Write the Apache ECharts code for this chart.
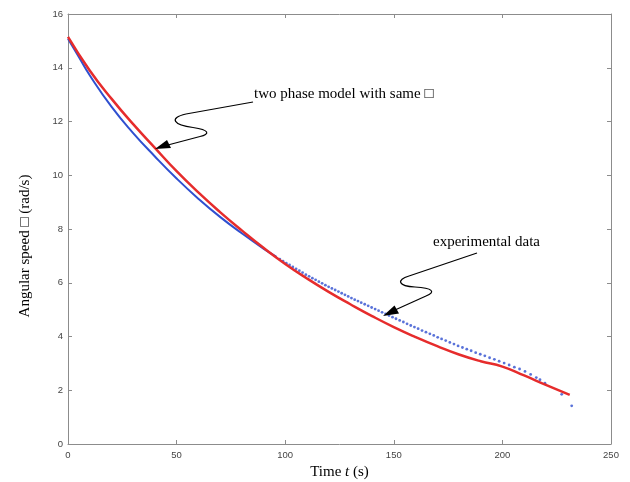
<!DOCTYPE html>
<html>
<head>
<meta charset="utf-8">
<script src="https://cdn.jsdelivr.net/npm/echarts@6/dist/echarts.min.js"></script>
<style>
html,body{margin:0;padding:0;background:#fff;}
#chart{width:630px;height:482px;}
</style>
</head>
<body>
<div id="chart"></div>
<script>
// ---- data ----
var xTicks = [0, 50, 100, 150, 200, 250];
var yTicks = [0, 2, 4, 6, 8, 10, 12, 14, 16];

// two phase model (red line)
var modelT = [0, 10, 20, 30, 40, 50, 60, 70, 80, 90, 100, 110, 120, 130, 140, 150, 160, 170, 180, 190, 200, 210, 220, 231];
var modelW = [15.15, 13.9, 12.85, 11.9, 11.02, 10.15, 9.36, 8.63, 7.95, 7.3, 6.7, 6.16, 5.66, 5.2, 4.76, 4.35, 3.98, 3.64, 3.33, 3.08, 2.88, 2.55, 2.2, 1.83];

// experimental data, dense early part (looks continuous)
var expDenseT = [0, 5, 10, 20, 30, 40, 50, 60, 70, 80, 90, 96];
var expDenseW = [15.08, 14.4, 13.72, 12.55, 11.57, 10.7, 9.88, 9.13, 8.45, 7.84, 7.27, 6.96];

// experimental data, separate samples
var expT = [97.5, 99, 100.5, 102, 103.5, 105, 106.5, 108, 109.5, 111, 112.5, 114, 115.5, 117, 118.5, 120, 121.5, 123, 124.5, 126, 127.5, 129, 130.5, 132, 133.5, 135, 136.6, 138.2, 139.8, 141.4, 143, 144.6, 146.2, 147.8, 149.4, 151, 152.7, 154.4, 156.1, 157.8, 159.5, 161.2, 163, 164.8, 166.6, 168.4, 170.2, 172, 173.9, 175.8, 177.7, 179.6, 181.6, 183.6, 185.6, 187.7, 189.8, 191.9, 194.1, 196.3, 198.5, 200.8, 203.1, 205.5, 207.9, 210.4, 213, 215.6, 217.3, 219.6, 227.3, 231.9];
var expW = [6.88, 6.80, 6.73, 6.66, 6.59, 6.52, 6.45, 6.38, 6.30, 6.24, 6.17, 6.11, 6.04, 5.98, 5.91, 5.85, 5.79, 5.73, 5.67, 5.61, 5.55, 5.49, 5.43, 5.37, 5.32, 5.26, 5.20, 5.14, 5.08, 5.02, 4.96, 4.90, 4.84, 4.78, 4.72, 4.66, 4.60, 4.54, 4.47, 4.41, 4.35, 4.29, 4.22, 4.16, 4.10, 4.04, 3.97, 3.91, 3.85, 3.78, 3.72, 3.65, 3.59, 3.53, 3.47, 3.40, 3.34, 3.28, 3.21, 3.15, 3.08, 3.01, 2.94, 2.86, 2.79, 2.70, 2.59, 2.47, 2.39, 2.26, 1.85, 1.42];

var xTitle = 'Time {i|t} (s)';
var yTitle = 'Angular speed \u25A1 (rad/s)';
var note1 = 'two phase model with same \u25A1';
var note2 = 'experimental data';

function pairs(a, b) { return a.map(function (v, i) { return [v, b[i]]; }); }

var chart = echarts.init(document.getElementById('chart'), null, {renderer: 'canvas'});
var frameColor = '#8c8c8c';
var labelStyle = {color: '#444', fontFamily: 'Liberation Sans, Arial, sans-serif', fontSize: 9.5};
var serif = 'Liberation Serif, Times New Roman, serif';

function axisBase(extra) {
  var o = {
    type: 'value',
    axisLine: {show: true, onZero: false, lineStyle: {color: frameColor, width: 1}},
    axisTick: {show: true, inside: true, length: 4, lineStyle: {color: frameColor}},
    splitLine: {show: false}
  };
  for (var k in extra) o[k] = extra[k];
  return o;
}

var arrowStroke = {fill: null, stroke: '#000', lineWidth: 1.2};
function seg(a, b) { return {type: 'line', z: 10, shape: {x1: a[0], y1: a[1], x2: b[0], y2: b[1]}, style: arrowStroke}; }
function bez(a, c1, c2, b) {
  return {type: 'bezierCurve', z: 10,
    shape: {x1: a[0], y1: a[1], cpx1: c1[0], cpy1: c1[1], cpx2: c2[0], cpy2: c2[1], x2: b[0], y2: b[1]},
    style: arrowStroke};
}

var option = {
  backgroundColor: '#fff',
  animation: false,
  grid: {left: 68, right: 19, top: 14, bottom: 38, containLabel: false, outerBoundsMode: 'none'},
  xAxis: [
    axisBase({
      position: 'bottom', min: xTicks[0], max: xTicks[xTicks.length - 1], interval: xTicks[1] - xTicks[0],
      axisLabel: Object.assign({margin: 6}, labelStyle),
      name: xTitle, nameLocation: 'middle', nameGap: 17,
      nameTextStyle: {fontFamily: serif, fontSize: 15, color: '#000',
        rich: {i: {fontFamily: serif, fontSize: 15, fontStyle: 'italic', color: '#000'}}}
    }),
    axisBase({
      position: 'top', min: xTicks[0], max: xTicks[xTicks.length - 1], interval: xTicks[1] - xTicks[0],
      axisLabel: {show: false}
    })
  ],
  yAxis: [
    axisBase({
      position: 'left', min: yTicks[0], max: yTicks[yTicks.length - 1], interval: yTicks[1] - yTicks[0],
      axisLabel: Object.assign({margin: 5}, labelStyle),
      name: yTitle, nameLocation: 'middle', nameGap: 35, nameRotate: 90,
      nameTextStyle: {fontFamily: serif, fontSize: 15, color: '#000', padding: [0, 34, 0, 0]}
    }),
    axisBase({
      position: 'right', min: yTicks[0], max: yTicks[yTicks.length - 1], interval: yTicks[1] - yTicks[0],
      axisLabel: {show: false}
    })
  ],
  series: [
    {
      name: 'experimental (dense)', type: 'line', data: pairs(expDenseT, expDenseW),
      smooth: true, symbol: 'none', z: 2,
      lineStyle: {color: '#2f4fd0', width: 2}
    },
    {
      name: 'experimental data', type: 'scatter', data: pairs(expT, expW),
      symbol: 'circle', symbolSize: 2.8, z: 2,
      itemStyle: {color: '#2f4fd0'}
    },
    {
      name: 'two phase model', type: 'line', data: pairs(modelT, modelW),
      smooth: true, symbol: 'none', z: 3,
      lineStyle: {color: '#e62c2c', width: 2.5}
    }
  ],
  graphic: [
    {type: 'text', x: 254, y: 87, z: 10,
      style: {text: note1, font: '15px ' + serif, fill: '#000'}},
    {type: 'text', x: 433, y: 235, z: 10,
      style: {text: note2, font: '15px ' + serif, fill: '#000'}},
    seg([253, 102], [186, 114]),
    bez([186, 114], [168, 118], [174, 125], [193, 127.5]),
    bez([193, 127.5], [210, 130], [210, 134], [200, 136.5]),
    seg([200, 136.5], [166, 145.5]),
    {type: 'polygon', z: 10, shape: {points: [[155, 149], [171, 148], [167, 140]]}, style: {fill: '#000'}},
    seg([477, 253], [409, 276]),
    bez([409, 276], [396, 280], [398, 286], [415, 287]),
    bez([415, 287], [433, 288], [436, 292], [426, 296]),
    seg([426, 296], [395, 310]),
    {type: 'polygon', z: 10, shape: {points: [[383, 316], [399, 313.5], [394.5, 305.5]]}, style: {fill: '#000'}}
  ]
};
chart.setOption(option);
</script>
</body>
</html>
